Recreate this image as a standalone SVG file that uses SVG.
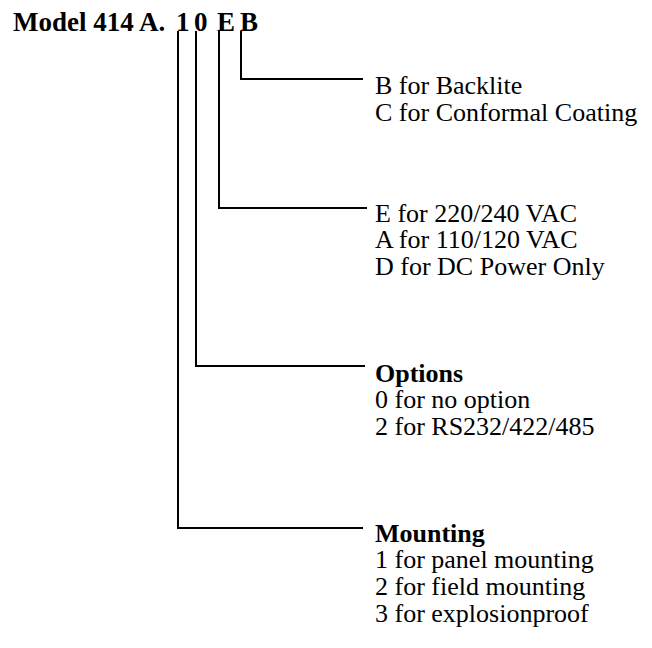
<svg xmlns="http://www.w3.org/2000/svg" width="652" height="648" viewBox="0 0 652 648">
<style>
.c{fill:none;stroke:#000;stroke-width:2}
</style>
<rect width="652" height="648" fill="#fff"/>
<g font-family="'Liberation Serif', 'Times New Roman', serif" fill="#000">
<g id="title"><text x="13" y="31" font-size="27" font-weight="bold">Model 414 A. <tspan x="176">1</tspan><tspan x="194">0</tspan><tspan x="217">E</tspan><tspan x="240">B</tspan></text></g>
<g id="backlite" font-size="26"><text x="375" y="94">B for Backlite</text><text x="375" y="120.5">C for Conformal Coating</text></g>
<g id="power" font-size="26"><text x="375" y="221.5">E for 220/240 VAC</text><text x="375" y="248.3">A for 110/120 VAC</text><text x="375" y="275">D for DC Power Only</text></g>
<g id="options" font-size="26"><text x="375" y="381.7" font-weight="bold">Options</text><text x="375" y="408.3">0 for no option</text><text x="375" y="435">2 for RS232/422/485</text></g>
<g id="mounting" font-size="26"><text x="375" y="541.7" font-weight="bold">Mounting</text><text x="375" y="568.3">1 for panel mounting</text><text x="375" y="595">2 for field mounting</text><text x="375" y="621.7">3 for explosionproof</text></g>
</g>
<g id="connectors">
<path class="c" d="M241 31V79H363"/>
<path class="c" d="M219 31V208H367"/>
<path class="c" d="M196 31V366H365"/>
<path class="c" d="M178 31V528H363"/>
</g>
</svg>
